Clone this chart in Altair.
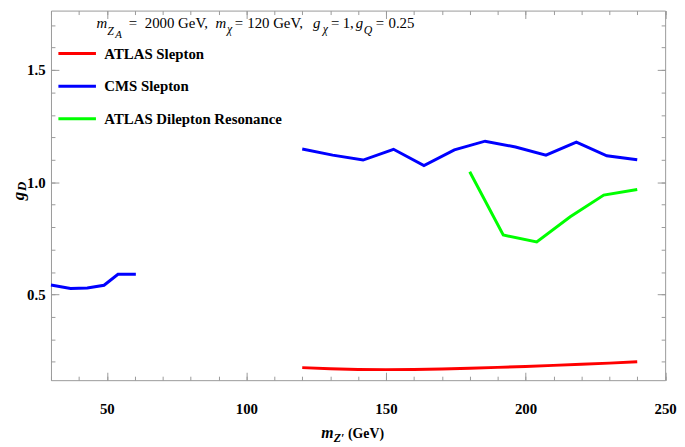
import altair as alt
import pandas as pd

# ---------------- data ----------------
series_names = ["ATLAS Slepton", "CMS Slepton", "ATLAS Dilepton Resonance"]
series_colors = ["#ff0000", "#0000ff", "#00ff00"]

atlas_slepton_x = [120, 130, 140, 150, 160, 170, 180, 190, 200, 210, 220, 230, 240]
atlas_slepton_y = [0.174, 0.169, 0.166, 0.165, 0.166, 0.168, 0.171, 0.175, 0.179, 0.184, 0.189, 0.194, 0.200]

cms_low_x = [30, 37, 43, 49, 54, 60.4]
cms_low_y = [0.542, 0.527, 0.529, 0.541, 0.590, 0.590]

cms_high_x = [120, 130.9, 141.8, 152.7, 163.6, 174.5, 185.5, 196.4, 207.3, 218.2, 229.1, 240]
cms_high_y = [1.148, 1.121, 1.099, 1.147, 1.074, 1.144, 1.183, 1.157, 1.121, 1.179, 1.118, 1.100]

atlas_dilep_x = [180, 192, 204, 216, 228, 240]
atlas_dilep_y = [1.047, 0.765, 0.734, 0.846, 0.943, 0.968]

x_major_ticks = [50, 100, 150, 200, 250]
x_minor_ticks = [30, 40, 50, 60, 70, 80, 90, 100, 110, 120, 130, 140, 150, 160, 170, 180,
                 190, 200, 210, 220, 230, 240, 250]
y_major_ticks = [0.5, 1.0, 1.5]
y_minor_ticks = [0.2, 0.3, 0.4, 0.5, 0.6, 0.7, 0.8, 0.9, 1.0, 1.1, 1.2, 1.3, 1.4, 1.5, 1.6, 1.7]

rows = []
for x, y in zip(atlas_slepton_x, atlas_slepton_y):
    rows.append({"x": x, "y": y, "series": series_names[0], "seg": "a"})
for x, y in zip(cms_low_x, cms_low_y):
    rows.append({"x": x, "y": y, "series": series_names[1], "seg": "b1"})
for x, y in zip(cms_high_x, cms_high_y):
    rows.append({"x": x, "y": y, "series": series_names[1], "seg": "b2"})
for x, y in zip(atlas_dilep_x, atlas_dilep_y):
    rows.append({"x": x, "y": y, "series": series_names[2], "seg": "c"})
lines_df = pd.DataFrame(rows)

# annotation text (positions in data units)
title_italic = pd.DataFrame({
    "text": ["m", "Z", "A", "m", "χ", "g", "χ", "g", "Q"],
    "x": [46.28, 50.18, 53.01, 88.94, 93.01, 123.9, 127.35, 139.2, 142.04],
    "y": [1.686, 1.657, 1.643, 1.686, 1.666, 1.686, 1.666, 1.686, 1.660],
    "size": [15, 12, 11, 15, 12, 15, 12, 15, 12],
})
title_normal = pd.DataFrame({
    "text": ["=", "2000 GeV,", "=", "120 GeV,", "=", "1,", "=", "0.25"],
    "x": [57.9, 63.6, 95.84, 100.3, 130.3, 134.5, 146.3, 150.9],
    "y": [1.686] * 8,
    "size": [15] * 8,
})
xtitle_italic = pd.DataFrame({
    "text": ["m", "Z′"],
    "x": [126.8, 131.3],
    "y": [-0.1418, -0.1590],
    "size": [16, 12],
})
xtitle_normal = pd.DataFrame({"text": ["(GeV)"], "x": [136.4], "y": [-0.1418], "size": [14]})
ytitle = pd.DataFrame({
    "text": ["g", "D"],
    "x": [20.27, 21.15],
    "y": [0.9194, 0.9613],
    "size": [17, 13],
})

# ---------------- chart ----------------
FONT = "Liberation Serif"
GRAY = "#999999"
xs = alt.Scale(domain=[30, 250], nice=False, zero=False)
ys = alt.Scale(domain=[0.118, 1.765], nice=False, zero=False)

common = dict(domain=False, grid=False, tickColor=GRAY, tickWidth=1, title=None)


def major_axis(orient, values, labels, **kw):
    return alt.Axis(orient=orient, values=values, tickSize=8, offset=-8, labels=labels,
                    labelFont=FONT, labelFontSize=15, labelFontWeight="bold",
                    labelColor="black", labelOverlap=False, labelFlush=False, **common, **kw)


def minor_axis(orient, values):
    return alt.Axis(orient=orient, values=values, tickSize=4, offset=-4, labels=False, **common)


main = alt.Chart(lines_df).mark_line(strokeWidth=3).encode(
    x=alt.X("x:Q", scale=xs, axis=major_axis("bottom", x_major_ticks, True, labelPadding=22)),
    y=alt.Y("y:Q", scale=ys, axis=major_axis("left", y_major_ticks, True, labelPadding=6, format=".1f")),
    color=alt.Color("series:N",
                    scale=alt.Scale(domain=series_names, range=series_colors),
                    legend=alt.Legend(title=None, orient="none", legendX=6, legendY=23,
                                      symbolType="stroke", symbolSize=1444, symbolStrokeWidth=3,
                                      labelFont=FONT, labelFontSize=15, labelFontWeight="bold",
                                      labelColor="black", labelOffset=7, rowPadding=4,
                                      padding=0, labelLimit=0)),
    detail="seg:N",
    order=alt.Order("x:Q"),
)


def axis_layer(xaxis, yaxis):
    return alt.Chart(lines_df).mark_line(opacity=0).encode(
        x=alt.X("x:Q", scale=xs, axis=xaxis),
        y=alt.Y("y:Q", scale=ys, axis=yaxis),
        detail="seg:N",
    )


l2 = axis_layer(minor_axis("bottom", x_minor_ticks), minor_axis("left", y_minor_ticks))
l3 = axis_layer(major_axis("top", x_major_ticks, False), major_axis("right", y_major_ticks, False))
l4 = axis_layer(minor_axis("top", x_minor_ticks), minor_axis("right", y_minor_ticks))


def text_layer(df, style, weight, angle=0):
    kw = dict(align="left", baseline="alphabetic", font=FONT, fontStyle=style,
              fontWeight=weight, color="black")
    if angle:
        kw["angle"] = angle
    return alt.Chart(df).mark_text(**kw).encode(
        x=alt.X("x:Q", scale=xs, axis=None),
        y=alt.Y("y:Q", scale=ys, axis=None),
        text="text:N",
        size=alt.Size("size:Q", scale=None, legend=None),
    )


t1 = text_layer(title_italic, "italic", "normal")
t2 = text_layer(title_normal, "normal", "normal")
t3 = text_layer(xtitle_italic, "italic", "bold")
t4 = text_layer(xtitle_normal, "normal", "bold")
t5 = text_layer(ytitle, "italic", "bold", angle=270)

chart = alt.layer(main, l2, l3, l4, t1, t2, t3, t4, t5).resolve_axis(
    x="independent", y="independent"
).properties(
    width=621.5, height=374,
    autosize=alt.AutoSizeParams(type="none"),
    padding={"left": 43.5, "top": 0, "right": 12, "bottom": 65},
    background="white",
).configure_view(stroke=GRAY, strokeWidth=1)

chart.save("out.html", embed_options={"renderer": "svg", "actions": False})
